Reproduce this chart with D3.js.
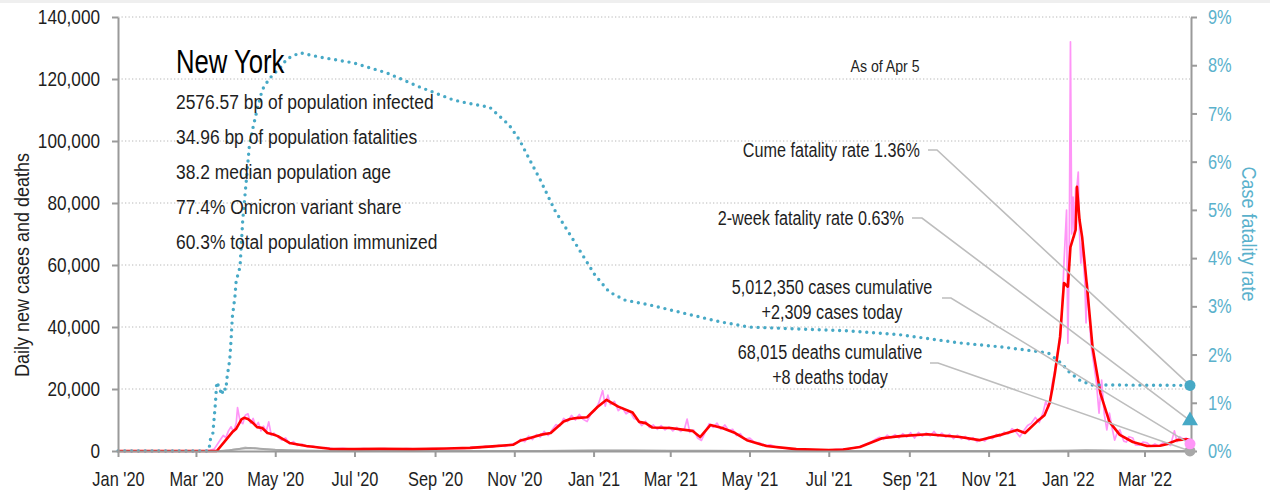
<!DOCTYPE html>
<html><head><meta charset="utf-8">
<script src="https://cdn.jsdelivr.net/npm/d3@7"></script>
<style>
body{margin:0;background:#fff;}
svg text{font-family:"Liberation Sans",Arial,sans-serif;}
</style></head><body>
<svg id="c" width="1270" height="491"></svg>
<script>
// ---------- data ----------
const xTickDates = ["2020-01-01","2020-03-01","2020-05-01","2020-07-01","2020-09-01","2020-11-01","2021-01-01","2021-03-01","2021-05-01","2021-07-01","2021-09-01","2021-11-01","2022-01-01","2022-03-01"];
const xTickLabels = ["Jan '20","Mar '20","May '20","Jul '20","Sep '20","Nov '20","Jan '21","Mar '21","May '21","Jul '21","Sep '21","Nov '21","Jan '22","Mar '22"];
const leftTicks = [0,20000,40000,60000,80000,100000,120000,140000];
const rightTicks = [0,1,2,3,4,5,6,7,8,9];

const casesDaily = [["2020-01-01",0],["2020-03-01",0],["2020-03-08",20],["2020-03-12",200],["2020-03-15",600],["2020-03-18",2500],["2020-03-20",3800],["2020-03-22",5000],["2020-03-24",4300],["2020-03-26",6500],["2020-03-28",7800],["2020-03-30",6200],["2020-04-01",9000],["2020-04-02",14000],["2020-04-04",9500],["2020-04-06",8800],["2020-04-08",11500],["2020-04-10",12000],["2020-04-12",9000],["2020-04-14",10500],["2020-04-16",8000],["2020-04-18",9200],["2020-04-20",6500],["2020-04-22",8000],["2020-04-24",6200],["2020-04-26",9400],["2020-04-28",5000],["2020-04-30",5800],["2020-05-03",4500],["2020-05-06",3500],["2020-05-09",4200],["2020-05-12",2300],["2020-05-15",3000],["2020-05-18",1800],["2020-05-22",2200],["2020-05-26",1300],["2020-05-30",1600],["2020-06-04",900],["2020-06-09",1100],["2020-06-15",700],["2020-06-22",850],["2020-06-30",550],["2020-07-08",800],["2020-07-16",600],["2020-07-24",780],["2020-08-02",550],["2020-08-10",750],["2020-08-20",600],["2020-08-30",800],["2020-09-08",700],["2020-09-16",900],["2020-09-24",800],["2020-09-30",1300],["2020-10-05",1000],["2020-10-10",1600],["2020-10-15",1200],["2020-10-20",1800],["2020-10-25",1500],["2020-10-30",2200],["2020-11-03",2600],["2020-11-06",3800],["2020-11-09",3000],["2020-11-12",4800],["2020-11-15",3700],["2020-11-18",5300],["2020-11-21",4500],["2020-11-24",6300],["2020-11-27",5000],["2020-11-30",6800],["2020-12-03",8500],["2020-12-06",8000],["2020-12-09",10500],["2020-12-12",9500],["2020-12-15",11500],["2020-12-18",10000],["2020-12-21",11800],["2020-12-24",10200],["2020-12-27",9500],["2020-12-30",12000],
["2021-01-02",13000],["2021-01-05",15500],["2021-01-08",19500],["2021-01-10",14500],["2021-01-12",18000],["2021-01-14",15000],["2021-01-17",16000],["2021-01-20",13000],["2021-01-23",14000],["2021-01-26",12000],["2021-01-29",12800],["2021-02-01",10500],["2021-02-04",10000],["2021-02-07",8200],["2021-02-10",9600],["2021-02-13",7600],["2021-02-16",8400],["2021-02-19",7000],["2021-02-22",8200],["2021-02-25",6800],["2021-02-28",7800],["2021-03-03",6500],["2021-03-06",7600],["2021-03-09",6300],["2021-03-12",7200],["2021-03-14",10300],["2021-03-16",6000],["2021-03-19",6800],["2021-03-22",4200],["2021-03-25",3400],["2021-03-28",6200],["2021-03-31",8800],["2021-04-03",7600],["2021-04-06",9000],["2021-04-09",7000],["2021-04-12",8400],["2021-04-15",6600],["2021-04-18",7000],["2021-04-21",5000],["2021-04-24",5600],["2021-04-27",3800],["2021-05-01",4200],["2021-05-05",2800],["2021-05-09",2600],["2021-05-13",1800],["2021-05-17",2000],["2021-05-22",1200],["2021-05-27",1000],["2021-06-02",700],["2021-06-10",550],["2021-06-20",350],["2021-07-01",300],["2021-07-09",500],["2021-07-16",700],["2021-07-21",1100],["2021-07-26",1600],["2021-07-30",2300],["2021-08-03",3000],["2021-08-06",3800],["2021-08-09",4400],["2021-08-12",3700],["2021-08-15",5100],["2021-08-18",4300],["2021-08-21",5300],["2021-08-24",4200],["2021-08-27",5600],["2021-08-30",4500],["2021-09-02",5900],["2021-09-05",4200],["2021-09-08",6000],["2021-09-11",4800],["2021-09-14",5800],["2021-09-17",4900],["2021-09-20",6300],["2021-09-23",4700],["2021-09-26",5800],["2021-09-29",4500],["2021-10-02",5400],["2021-10-05",4000],["2021-10-08",5100],["2021-10-11",3900],["2021-10-14",4700],["2021-10-17",3500],["2021-10-20",4300],["2021-10-23",3000],["2021-10-26",3900],["2021-10-29",3200],["2021-11-01",4500],["2021-11-04",4000],["2021-11-07",5400],["2021-11-10",4700],["2021-11-13",6100],["2021-11-16",5500],["2021-11-19",7200],["2021-11-22",6200],["2021-11-25",4600],["2021-11-28",6500],["2021-12-01",8200],["2021-12-04",9000],["2021-12-07",10800],["2021-12-10",9200],["2021-12-13",12500],["2021-12-15",16000],["2021-12-17",14000],["2021-12-18",15500],["2021-12-20",21900],["2021-12-22",26000],["2021-12-24",31600],["2021-12-26",35000],["2021-12-27",40000],["2021-12-29",60600],["2021-12-31",77700],
["2022-01-01",34800],["2022-01-02",60000],["2022-01-03",132000],["2022-01-04",70000],["2022-01-05",81900],["2022-01-06",69000],["2022-01-07",84800],["2022-01-08",85200],["2022-01-09",90000],["2022-01-10",70000],["2022-01-11",60600],["2022-01-12",67000],["2022-01-14",55000],["2022-01-15",41300],["2022-01-16",54200],["2022-01-18",40000],["2022-01-19",33500],["2022-01-21",28000],["2022-01-23",21900],["2022-01-25",12200],["2022-01-27",22900],["2022-01-29",12000],["2022-01-31",6800],["2022-02-02",12200],["2022-02-04",7500],["2022-02-06",3500],["2022-02-08",6000],["2022-02-10",6800],["2022-02-13",3200],["2022-02-15",2900],["2022-02-17",4600],["2022-02-20",4200],["2022-02-22",2000],["2022-02-25",1900],["2022-02-28",2900],["2022-03-03",2600],["2022-03-06",1500],["2022-03-09",2300],["2022-03-12",1600],["2022-03-15",2600],["2022-03-18",2400],["2022-03-21",1800],["2022-03-24",6500],["2022-03-26",3000],["2022-03-28",4600],["2022-03-31",3800],["2022-04-02",4200],["2022-04-04",2600],["2022-04-05",2309]];

const casesAvg = [["2020-01-01",0],["2020-03-17",0],["2020-03-23",3000],["2020-03-29",6100],["2020-04-01",7200],["2020-04-05",10200],["2020-04-07",10700],["2020-04-10",10300],["2020-04-14",9000],["2020-04-17",7700],["2020-04-21",7400],["2020-04-25",5800],["2020-04-29",5400],["2020-05-03",4800],["2020-05-12",2600],["2020-05-25",1600],["2020-06-12",700],["2020-07-01",600],["2020-07-20",700],["2020-08-15",620],["2020-09-10",800],["2020-09-28",1000],["2020-10-15",1500],["2020-10-31",2000],["2020-11-06",3400],["2020-11-13",4200],["2020-11-21",5200],["2020-11-29",5800],["2020-12-09",9500],["2020-12-14",10300],["2020-12-20",10700],["2020-12-27",10900],["2021-01-04",14200],["2021-01-11",16500],["2021-01-20",14300],["2021-01-31",12400],["2021-02-05",9400],["2021-02-10",9000],["2021-02-15",7600],["2021-03-01",7400],["2021-03-18",6500],["2021-03-24",4500],["2021-04-01",8400],["2021-04-10",7400],["2021-04-20",5800],["2021-04-29",3500],["2021-05-14",1600],["2021-06-06",600],["2021-07-01",300],["2021-07-12",500],["2021-07-25",1300],["2021-08-11",4100],["2021-08-25",4800],["2021-09-15",5400],["2021-10-10",4500],["2021-10-25",3500],["2021-11-10",5200],["2021-11-23",6800],["2021-11-29",5800],["2021-12-08",9400],["2021-12-14",11500],["2021-12-18",15500],["2021-12-20",20000],["2021-12-22",25100],["2021-12-26",36800],["2021-12-29",54200],["2022-01-01",53000],["2022-01-03",65800],["2022-01-07",71300],["2022-01-08",85200],["2022-01-10",74500],["2022-01-12",69000],["2022-01-16",51900],["2022-01-20",33500],["2022-01-26",18700],["2022-02-02",9400],["2022-02-10",5200],["2022-02-20",2900],["2022-03-03",1600],["2022-03-13",1700],["2022-03-18",2200],["2022-03-26",3500],["2022-04-03",3800],["2022-04-05",3500]];

const deathsDaily = [["2020-01-01",0],["2020-03-14",0],["2020-03-22",120],["2020-03-29",450],["2020-04-04",800],["2020-04-08",1200],["2020-04-12",900],["2020-04-15",1050],["2020-04-19",750],["2020-04-24",650],["2020-04-30",400],["2020-05-07",300],["2020-05-15",180],["2020-05-25",90],["2020-06-10",50],["2020-07-01",20],["2020-08-01",10],["2020-09-01",8],["2020-10-01",12],["2020-11-01",18],["2020-12-01",60],["2021-01-01",150],["2021-01-15",190],["2021-02-01",160],["2021-03-01",90],["2021-04-01",60],["2021-05-01",40],["2021-06-01",15],["2021-07-01",5],["2021-08-01",12],["2021-09-01",28],["2021-10-01",32],["2021-11-01",25],["2021-12-01",40],["2021-12-20",70],["2022-01-01",130],["2022-01-15",280],["2022-02-01",160],["2022-03-01",40],["2022-04-05",8]];
const deathsAvg = [["2020-01-01",0],["2020-03-14",0],["2020-03-20",30],["2020-03-27",250],["2020-04-03",650],["2020-04-08",900],["2020-04-12",950],["2020-04-17",800],["2020-04-24",600],["2020-05-01",400],["2020-05-10",250],["2020-05-20",130],["2020-06-01",70],["2020-06-15",40],["2020-07-01",20],["2020-08-01",10],["2020-09-01",8],["2020-10-01",10],["2020-11-01",15],["2020-11-20",30],["2020-12-10",70],["2021-01-01",140],["2021-01-15",170],["2021-02-01",150],["2021-03-01",90],["2021-04-01",60],["2021-05-01",40],["2021-06-01",15],["2021-07-01",5],["2021-08-01",10],["2021-09-01",25],["2021-10-01",30],["2021-11-01",25],["2021-12-01",35],["2021-12-20",60],["2022-01-01",120],["2022-01-15",250],["2022-02-01",150],["2022-03-01",40],["2022-04-05",15]];

const fatalityRate = [["2020-01-01",0],["2020-03-10",0],["2020-03-11",0.02],["2020-03-12",0.23],["2020-03-14",0.37],["2020-03-15",0.68],["2020-03-16",1.0],["2020-03-17",1.43],["2020-03-19",1.31],["2020-03-21",1.16],["2020-03-22",1.31],["2020-03-24",1.27],["2020-03-25",1.54],["2020-03-27",1.89],["2020-03-28",2.3],["2020-03-29",2.78],["2020-03-31",3.2],["2020-04-01",3.55],["2020-04-03",3.71],["2020-04-04",3.86],["2020-04-06",4.79],["2020-04-09",5.68],["2020-04-11",6.3],["2020-04-14",6.72],["2020-04-17",7.07],["2020-04-21",7.49],["2020-04-25",7.66],["2020-04-29",7.8],["2020-05-05",7.95],["2020-05-10",8.13],["2020-05-20",8.26],["2020-06-04",8.17],["2020-06-30",8.05],["2020-07-26",7.84],["2020-08-20",7.55],["2020-09-15",7.28],["2020-09-25",7.22],["2020-10-13",7.13],["2020-10-28",6.76],["2020-11-05",6.45],["2020-11-13",6.03],["2020-11-21",5.62],["2020-12-02",5.0],["2020-12-14",4.48],["2020-12-25",4.0],["2021-01-02",3.65],["2021-01-13",3.3],["2021-01-25",3.13],["2021-02-13",3.03],["2021-03-08",2.88],["2021-04-08",2.68],["2021-05-01",2.57],["2021-06-09",2.53],["2021-07-17",2.49],["2021-08-25",2.41],["2021-10-10",2.24],["2021-11-10",2.16],["2021-12-01",2.09],["2021-12-17",2.03],["2021-12-27",1.82],["2022-01-02",1.64],["2022-01-10",1.47],["2022-01-19",1.37],["2022-04-05",1.36]];

const statLines = ["2576.57 bp of population infected","34.96 bp of population fatalities","38.2 median population age","77.4% Omicron variant share","60.3% total population immunized"];
const endValues = {cfr:1.36, cfr2w:0.63, casesToday:2309, deathsToday:8};

// ---------- drawing ----------
const svg = d3.select("#c");
const parse = d3.utcParse("%Y-%m-%d");
const x = d3.scaleUtc().domain([parse("2020-01-01"), parse("2022-04-05")]).range([118,1190]);
const yL = d3.scaleLinear().domain([0,140000]).range([451,17]);
const yR = d3.scaleLinear().domain([0,9]).range([451,17]);
const AX = "#9a9a9a", TEAL = "#47a9c6", TEALTXT = "#5ab1cc", INK = "#1e1e1e";

// condensed text helper: horizontal squeeze around anchor point
function label(parent, tx, ty, str, size, sx, anchor, fill, rot) {
  return parent.append("text")
    .attr("transform", `translate(${tx},${ty})${rot?` rotate(${rot})`:""} scale(${sx},1)`)
    .attr("text-anchor", anchor || "start").style("font-size", size + "px")
    .attr("fill", fill || INK).text(str);
}

svg.append("rect").attr("x",0).attr("y",0).attr("width",1270).attr("height",3).attr("fill","#efefef");

// grid
svg.append("g").selectAll("line").data(leftTicks.filter(d=>d>0)).join("line")
  .attr("x1",118).attr("x2",1190).attr("y1",d=>yL(d)).attr("y2",d=>yL(d))
  .attr("stroke","#b8b8b8").attr("stroke-width",1).attr("stroke-dasharray","1.3,2.2");

const lineL = d3.line().x(d=>x(parse(d[0]))).y(d=>yL(d[1]));
const lineR = d3.line().x(d=>x(parse(d[0]))).y(d=>yR(d[1]));

svg.append("path").attr("d",lineL(casesDaily)).attr("fill","none").attr("stroke","#ff95f7").attr("stroke-width",1.7).attr("stroke-linejoin","round");
svg.append("path").attr("d",lineL(deathsDaily)).attr("fill","none").attr("stroke","#c8c8c8").attr("stroke-width",1.5);
svg.append("path").attr("d",lineL(deathsAvg)).attr("fill","none").attr("stroke","#a8a8a8").attr("stroke-width",2);
svg.append("path").attr("d",lineL(casesAvg)).attr("fill","none").attr("stroke","#ff0000").attr("stroke-width",2.6).attr("stroke-linejoin","round");
svg.append("path").attr("d",lineR(fatalityRate)).attr("fill","none").attr("stroke",TEAL).attr("stroke-width",3.4)
  .attr("stroke-linecap","round").attr("stroke-dasharray","0,6.8");

// axes
const SXL = 0.86, SXR = 0.8, SXB = 0.82;
const gl = svg.append("g").attr("transform","translate(118,0)")
  .call(d3.axisLeft(yL).tickValues(leftTicks).tickFormat(d3.format(",")).tickSize(6).tickSizeOuter(0));
const gr = svg.append("g").attr("transform","translate(1191,0)")
  .call(d3.axisRight(yR).tickValues(rightTicks).tickFormat(d=>d+"%").tickSize(6).tickSizeOuter(0));
const gb = svg.append("g").attr("transform","translate(0,451)")
  .call(d3.axisBottom(x).tickValues(xTickDates.map(parse)).tickFormat((d,i)=>xTickLabels[i]).tickSize(6).tickSizeOuter(0).tickPadding(15));
[gl,gr,gb].forEach(g=>{
  g.select(".domain").attr("stroke",AX).attr("stroke-width",2);
  g.selectAll(".tick line").attr("stroke",AX).attr("stroke-width",2);
  g.selectAll("text").attr("font-family",null).style("font-size","20px").attr("fill",INK);
});
gl.selectAll("text").attr("x",-18/SXL).attr("transform",`scale(${SXL},1)`);
gr.selectAll("text").attr("x",17/SXR).attr("transform",`scale(${SXR},1)`).attr("fill",TEALTXT).style("font-size","20.5px");
gb.selectAll("text").attr("transform",`scale(${SXB},1)`);

// axis titles
label(svg, 29, 265, "Daily new cases and deaths", 20, 0.9, "middle", INK, -90);
label(svg, 1242, 234, "Case fatality rate", 20, 0.9, "middle", TEALTXT, 90);

// title + stats
label(svg, 176, 73, "New York", 34, 0.755, "start", "#000");
statLines.forEach((s,i)=>label(svg, 176, 109+i*35, s, 21, 0.83, "start", INK));

label(svg, 885, 72, "As of Apr 5", 17, 0.83, "middle", INK);

// annotations
const endX = x(parse("2022-04-05"));
const ann = [
  {lines:["Cume fatality rate "+endValues.cfr.toFixed(2)+"%"], anchor:"end", tx:920, ty:157, lx:928, ly:150, kx:937, ey:yR(endValues.cfr)},
  {lines:["2-week fatality rate "+endValues.cfr2w.toFixed(2)+"%"], anchor:"end", tx:904, ty:225, lx:912, ly:218, kx:922, ey:yR(endValues.cfr2w)},
  {lines:["5,012,350 cases cumulative","+"+d3.format(",")(endValues.casesToday)+" cases today"], anchor:"middle", tx:832, ty:294, lx:942, ly:298, kx:951, ey:yL(endValues.casesToday)},
  {lines:["68,015 deaths cumulative","+"+endValues.deathsToday+" deaths today"], anchor:"middle", tx:830, ty:359, lx:930, ly:363, kx:938, ey:yL(endValues.deathsToday)}
];
ann.forEach(a=>{
  svg.append("path").attr("d",`M${a.lx},${a.ly}L${a.kx},${a.ly}L${endX},${a.ey}`)
    .attr("fill","none").attr("stroke","#bdbdbd").attr("stroke-width",1.6);
  a.lines.forEach((t,i)=>label(svg, a.tx, a.ty+i*25, t, 20, 0.81, a.anchor, INK));
});

// end markers
svg.append("circle").attr("cx",endX).attr("cy",yL(endValues.deathsToday)).attr("r",5.5).attr("fill","#a8a8a8");
svg.append("circle").attr("cx",endX).attr("cy",yL(endValues.casesToday)).attr("r",5.5).attr("fill","#ff95f7");
svg.append("path").attr("d",d3.symbol(d3.symbolTriangle,110)()).attr("transform",`translate(${endX},${yR(endValues.cfr2w)})`).attr("fill",TEAL);
svg.append("circle").attr("cx",endX).attr("cy",yR(endValues.cfr)).attr("r",5.5).attr("fill",TEAL);
</script>
</body></html>
